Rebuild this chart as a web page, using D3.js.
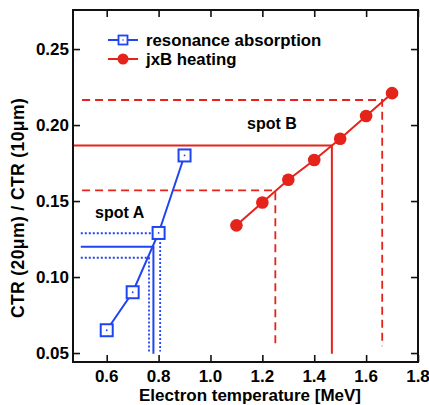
<!DOCTYPE html>
<html>
<head>
<meta charset="utf-8">
<script src="https://cdn.jsdelivr.net/npm/d3@7"></script>
<style>
  html, body { margin: 0; padding: 0; background: #fff; }
  svg { display: block; font-family: "Liberation Sans", Arial, sans-serif; font-weight: bold; }
</style>
</head>
<body>
<svg id="chart" width="429" height="405"></svg>
<script>
// Electron temperature [MeV]
const tempRA = [0.6, 0.7, 0.8, 0.9];
const ratioRA = [0.065, 0.090, 0.129, 0.180];
const tempJxB = [1.1, 1.2, 1.3, 1.4, 1.5, 1.6, 1.7];
const ratioJxB = [0.134, 0.149, 0.164, 0.177, 0.191, 0.206, 0.221];

// Measured CTR ratios for the two spots (mean, lower, upper) and the temperatures they map to
const spotARatio = [0.120, 0.1127, 0.1288];
const spotATemp = [0.78, 0.763, 0.806];
const spotBRatio = [0.1865, 0.157, 0.2165];
const spotBTemp = [1.468, 1.25, 1.662];

const xTicks = [0.6, 0.8, 1.0, 1.2, 1.4, 1.6, 1.8];
const yTicks = [0.05, 0.10, 0.15, 0.20, 0.25];

const BLUE = "#1f44f2";
const RED = "#e5231b";

const svg = d3.select("#chart");
const plotL = 73, plotR = 418, plotT = 10, plotB = 362;

const x = d3.scaleLinear().domain([0.47, 1.8]).range([plotL, plotR]);
const y = d3.scaleLinear().domain([0.0441, 0.2757]).range([plotB, plotT]);

// Guide lines for spot A (blue) and spot B (red)
function guides(ratios, temps, color, dashes, xStart, yEnds) {
  const g = svg.append("g").attr("stroke", color).attr("fill", "none");
  ratios.forEach((r, i) => {
    const path = d3.path();
    path.moveTo(x(xStart[i]), y(r));
    path.lineTo(x(temps[i]), y(r));
    path.lineTo(x(temps[i]), y(yEnds[i]));
    g.append("path")
      .attr("d", path.toString())
      .attr("stroke-width", dashes[i] ? 1.8 : 2)
      .attr("stroke-dasharray", dashes[i] || null);
  });
}
guides(spotARatio, spotATemp, BLUE, [null, "2,2", "2,2"], [0.50, 0.50, 0.50], [0.0495, 0.051, 0.051]);
guides(spotBRatio, spotBTemp, RED, [null, "8,5", "8,5"], [0.47, 0.505, 0.505], [0.0495, 0.056, 0.0545]);

// Series lines
const line = d3.line().x(d => x(d[0])).y(d => y(d[1]));
svg.append("path")
  .datum(d3.zip(tempRA, ratioRA))
  .attr("d", line)
  .attr("fill", "none").attr("stroke", BLUE).attr("stroke-width", 2);
svg.append("path")
  .datum(d3.zip(tempJxB, ratioJxB))
  .attr("d", line)
  .attr("fill", "none").attr("stroke", RED).attr("stroke-width", 2);

// Markers
const sq = 12;
svg.append("g").selectAll("rect")
  .data(d3.zip(tempRA, ratioRA)).join("rect")
  .attr("x", d => x(d[0]) - sq / 2).attr("y", d => y(d[1]) - sq / 2)
  .attr("width", sq).attr("height", sq)
  .attr("fill", "#fff").attr("stroke", BLUE).attr("stroke-width", 2);
svg.append("g").selectAll("circle")
  .data(d3.zip(tempRA, ratioRA)).join("circle")
  .attr("cx", d => x(d[0])).attr("cy", d => y(d[1])).attr("r", 0.9)
  .attr("fill", BLUE);
svg.append("g").selectAll("circle")
  .data(d3.zip(tempJxB, ratioJxB)).join("circle")
  .attr("cx", d => x(d[0])).attr("cy", d => y(d[1])).attr("r", 6.3)
  .attr("fill", RED);

// Frame with inward ticks on all four sides
const tickLen = 7;
svg.append("g").attr("transform", `translate(0,${plotB})`)
  .call(d3.axisTop(x).tickValues(xTicks).tickSize(tickLen).tickFormat(""))
  .call(g => g.select(".domain").remove());
svg.append("g").attr("transform", `translate(0,${plotT})`)
  .call(d3.axisBottom(x).tickValues(xTicks).tickSize(tickLen).tickFormat(""))
  .call(g => g.select(".domain").remove());
svg.append("g").attr("transform", `translate(${plotL},0)`)
  .call(d3.axisRight(y).tickValues(yTicks).tickSize(tickLen).tickFormat(""))
  .call(g => g.select(".domain").remove());
svg.append("g").attr("transform", `translate(${plotR},0)`)
  .call(d3.axisLeft(y).tickValues(yTicks).tickSize(tickLen).tickFormat(""))
  .call(g => g.select(".domain").remove());
svg.selectAll(".tick line").attr("stroke", "#111").attr("stroke-width", 1.6);
svg.append("rect")
  .attr("x", plotL).attr("y", plotT).attr("width", plotR - plotL).attr("height", plotB - plotT)
  .attr("fill", "none").attr("stroke", "#111").attr("stroke-width", 2);

// Tick labels
svg.append("g").selectAll("text")
  .data(xTicks).join("text")
  .attr("x", d => x(d)).attr("y", 382)
  .attr("text-anchor", "middle").attr("font-size", 17)
  .text(d => d.toFixed(1));
svg.append("g").selectAll("text")
  .data(yTicks).join("text")
  .attr("x", 69).attr("y", d => y(d) + 6)
  .attr("text-anchor", "end").attr("font-size", 17)
  .text(d => d.toFixed(2));

// Axis titles
svg.append("text")
  .attr("x", 250).attr("y", 401)
  .attr("text-anchor", "middle").attr("font-size", 17)
  .text("Electron temperature [MeV]");
svg.append("text")
  .attr("transform", "translate(24,208) rotate(-90)")
  .attr("text-anchor", "middle").attr("font-size", 17.5)
  .attr("letter-spacing", 0.4)
  .text("CTR (20\u03bcm) / CTR (10\u03bcm)");

// Spot annotations
svg.append("text").attr("x", 95).attr("y", 218).attr("font-size", 16).text("spot A");
svg.append("text").attr("x", 247).attr("y", 129).attr("font-size", 16).text("spot B");

// Legend
const legend = svg.append("g");
legend.append("line").attr("x1", 108).attr("x2", 138).attr("y1", 40).attr("y2", 40)
  .attr("stroke", BLUE).attr("stroke-width", 2);
legend.append("rect").attr("x", 123 - 4.5).attr("y", 40 - 4.5).attr("width", 9).attr("height", 9)
  .attr("fill", "#fff").attr("stroke", BLUE).attr("stroke-width", 1.8);
legend.append("circle").attr("cx", 123).attr("cy", 40).attr("r", 0.8).attr("fill", BLUE);
legend.append("text").attr("x", 146).attr("y", 46).attr("font-size", 16.8).text("resonance absorption");
legend.append("line").attr("x1", 108).attr("x2", 138).attr("y1", 59).attr("y2", 59)
  .attr("stroke", RED).attr("stroke-width", 2);
legend.append("circle").attr("cx", 123).attr("cy", 59).attr("r", 5.5).attr("fill", RED);
legend.append("text").attr("x", 146).attr("y", 65).attr("font-size", 16.8).text("jxB heating");
</script>
</body>
</html>
